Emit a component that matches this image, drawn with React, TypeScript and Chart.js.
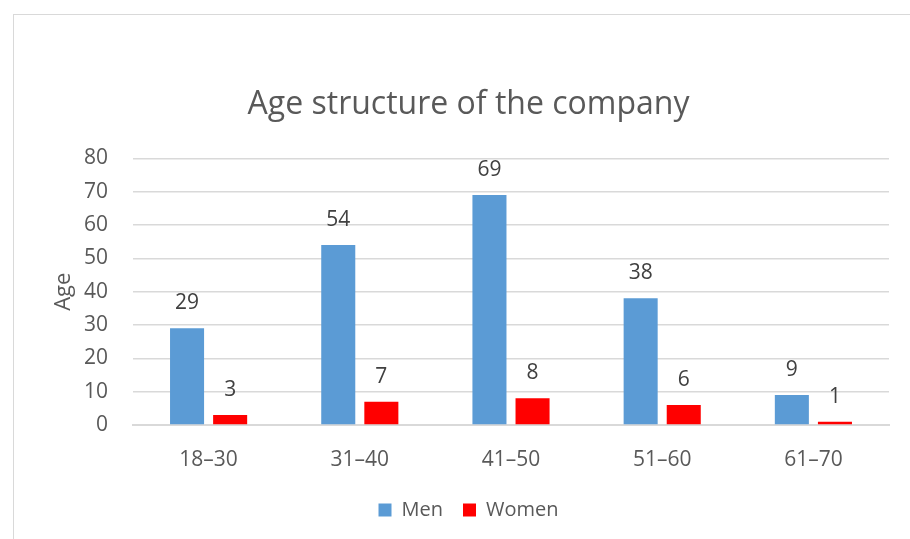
import React, { useEffect, useRef } from "react";
import { Chart, registerables } from "chart.js";

Chart.register(...registerables);

const categories = ["18–30", "31–40", "41–50", "51–60", "61–70"];
const menValues = [29, 54, 69, 38, 9];
const womenValues = [3, 7, 8, 6, 1];
const yTicks = [0, 10, 20, 30, 40, 50, 60, 70, 80];
const titleText = "Age structure of the company";
const yAxisTitle = "Age";

const FONT = "'Open Sans', 'Noto Sans', sans-serif";

const dataLabelPlugin = {
  id: "dataLabels",
  afterDatasetsDraw(chart: any) {
    const ctx = chart.ctx;
    ctx.save();
    ctx.font = `21px ${FONT}`;
    ctx.fillStyle = "#404040";
    ctx.textAlign = "center";
    ctx.textBaseline = "middle";
    chart.data.datasets.forEach((ds: any, i: number) => {
      const meta = chart.getDatasetMeta(i);
      meta.data.forEach((bar: any, j: number) => {
        ctx.fillText(String(ds.data[j]), bar.x, bar.y - 25);
      });
    });
    ctx.restore();
  },
};

export default function App() {
  const ref = useRef<HTMLCanvasElement>(null);
  useEffect(() => {
    if (!ref.current) return;
    const chart = new Chart(ref.current, {
      type: "bar",
      data: {
        labels: categories,
        datasets: [
          {
            label: "Men",
            data: menValues,
            backgroundColor: "#5b9bd5",
            barPercentage: 0.79,
            categoryPercentage: 0.57,
          },
          {
            label: "Women",
            data: womenValues,
            backgroundColor: "#ff0000",
            barPercentage: 0.79,
            categoryPercentage: 0.57,
          },
        ],
      },
      options: {
        animation: false,
        responsive: false,
        maintainAspectRatio: false,
        layout: { padding: { left: 48, right: 21, top: 14, bottom: 9 } },
        plugins: {
          title: {
            display: true,
            text: titleText,
            color: "#595959",
            font: { family: FONT, size: 32, weight: "normal" },
            padding: { top: 72, bottom: 34 },
          },
          legend: {
            position: "bottom",
            labels: {
              color: "#595959",
              font: { family: FONT, size: 20 },
              boxWidth: 13,
              boxHeight: 13,
              padding: 20,
            },
          },
          tooltip: { enabled: false },
        },
        scales: {
          x: {
            grid: { display: false, drawTicks: false },
            border: { display: true, color: "#d9d9d9", width: 2 },
            ticks: {
              color: "#595959",
              font: { family: FONT, size: 21 },
              padding: 22,
            },
            afterFit: (s: any) => {
              s.height = 55;
            },
          },
          y: {
            min: 0,
            max: 80,
            afterBuildTicks: (s: any) => {
              s.ticks = yTicks.map((v) => ({ value: v }));
            },
            grid: { color: "#d9d9d9", lineWidth: 1.5, drawTicks: false },
            border: { display: false },
            ticks: {
              color: "#595959",
              font: { family: FONT, size: 21 },
              padding: 25,
            },
            title: {
              display: true,
              text: yAxisTitle,
              color: "#595959",
              font: { family: FONT, size: 22 },
              padding: { top: 3, bottom: 0 },
            },
            afterFit: (s: any) => {
              s.width = 85;
            },
          },
        },
      },
      plugins: [dataLabelPlugin],
    });
    return () => chart.destroy();
  }, []);

  return (
    <div
      style={{
        position: "fixed",
        left: 0,
        top: 0,
        width: 910,
        height: 539,
        overflow: "hidden",
        background: "#ffffff",
      }}
    >
      <div
        style={{
          position: "absolute",
          left: 13,
          top: 14,
          width: 1000,
          height: 1000,
          borderLeft: "1.5px solid #d9d9d9",
          borderTop: "1.5px solid #d9d9d9",
        }}
      />
      <canvas
        ref={ref}
        width={910}
        height={539}
        style={{ position: "absolute", left: 0, top: 0 }}
      />
    </div>
  );
}
